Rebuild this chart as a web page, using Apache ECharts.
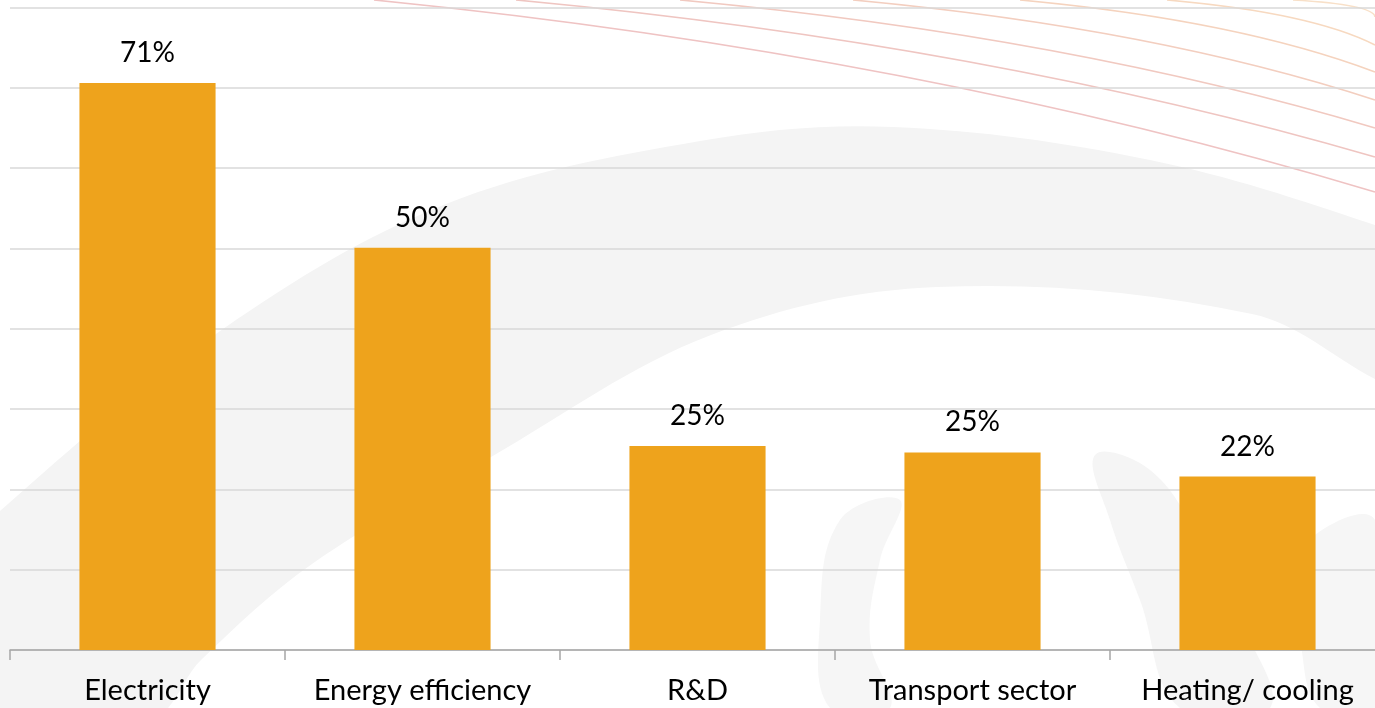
<!DOCTYPE html>
<html>
<head>
<meta charset="utf-8">
<script src="https://cdn.jsdelivr.net/npm/echarts@6/dist/echarts.min.js"></script>
<style>
html,body{margin:0;padding:0;background:#fff;overflow:hidden;width:1375px;height:708px;}
#chart{width:1395px;height:708px;}
</style>
</head>
<body>
<div id="chart"></div>
<script>
var categories = ['Electricity', 'Energy efficiency', 'R&D', 'Transport sector', 'Heating/ cooling'];
var shares = [70.6, 50.1, 25.4, 24.6, 21.6];
var axisMax = 80;
var axisStep = 10;

// decorative watermark arcs (top-right lines)
var arcStarts = [374, 516, 680, 853, 1020, 1167, 1293];
var arcEnds = [192, 157, 128, 100, 72, 45, 17];
var arcColors = ['#efc3c3', '#efc5c1', '#f1c9c0', '#f3cebf', '#f5d3be', '#f7d9c0', '#f8e0c8'];

var graphics = [];
graphics.push({
  type: 'polygon', z: -10, silent: true,
  shape: {
    smooth: 0.35,
    points: [[-40, 560], [0, 511], [223, 329], [446, 204], [700, 141], [893, 127], [1150, 160], [1375, 225], [1420, 250],
             [1420, 400], [1375, 379], [1252, 314], [937, 287], [711, 335], [491, 457], [312, 564], [201, 660], [150, 720], [-40, 720]]
  },
  style: { fill: '#f4f4f4' }
});
graphics.push({
  type: 'polygon', z: -10, silent: true,
  shape: { smooth: 0.4, points: [[1095, 455], [1150, 470], [1200, 540], [1240, 620], [1270, 708], [1180, 708], [1140, 600], [1110, 520]] },
  style: { fill: '#f5f5f5' }
});
graphics.push({
  type: 'polygon', z: -10, silent: true,
  shape: { smooth: 0.4, points: [[840, 520], [900, 500], [880, 560], [870, 640], [890, 708], [830, 708], [820, 620]] },
  style: { fill: '#f6f6f6' }
});
graphics.push({
  type: 'polygon', z: -10, silent: true,
  shape: { smooth: 0.4, points: [[1290, 560], [1375, 520], [1375, 708], [1320, 708], [1300, 640]] },
  style: { fill: '#f6f6f6' }
});
for (var i = 0; i < arcStarts.length; i++) {
  var x0 = arcStarts[i], y1 = arcEnds[i];
  graphics.push({
    type: 'bezierCurve', z: -5, silent: true,
    shape: { x1: x0, y1: 0, x2: 1375, y2: y1, cpx1: 0.5 * (x0 + 1375) + 40, cpy1: 0.28 * y1 },
    style: { stroke: arcColors[i], lineWidth: 1.6, fill: null }
  });
}

var chart = echarts.init(document.getElementById('chart'), null, { renderer: 'canvas' });
chart.setOption({
  animation: false,
  backgroundColor: '#ffffff',
  graphic: graphics,
  grid: { left: 10, top: 7.6, width: 1375, bottom: 58, containLabel: false },
  xAxis: {
    type: 'category',
    data: categories,
    boundaryGap: true,
    axisLine: { show: true, lineStyle: { color: '#a6a6a6', width: 1.5 } },
    axisTick: { show: true, length: 10, alignWithLabel: false, lineStyle: { color: '#a6a6a6', width: 1.5 } },
    axisLabel: { color: '#000000', fontSize: 29, fontFamily: 'Lato', margin: 26, interval: 0 }
  },
  yAxis: {
    type: 'value',
    min: 0,
    max: axisMax,
    interval: axisStep,
    axisLabel: { show: false },
    axisLine: { show: false },
    axisTick: { show: false },
    splitLine: { show: true, lineStyle: { color: '#d9d9d9', width: 1.5 } }
  },
  series: [{
    type: 'bar',
    data: shares,
    barWidth: '49.5%',
    itemStyle: { color: '#eea31c' },
    label: {
      show: true,
      position: 'top',
      distance: 16,
      color: '#000000',
      fontSize: 28,
      fontFamily: 'Lato',
      formatter: function (p) { return Math.round(p.value) + '%'; }
    }
  }]
});
</script>
</body>
</html>
